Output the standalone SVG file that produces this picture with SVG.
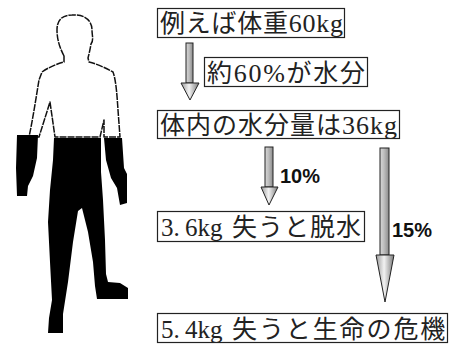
<svg xmlns="http://www.w3.org/2000/svg" width="456" height="344" viewBox="0 0 456 344">
  <defs>
    <linearGradient id="shaftFill" x1="0" y1="0" x2="1" y2="0">
      <stop offset="0" stop-color="#d8d8d8"/>
      <stop offset="0.45" stop-color="#bdbdbd"/>
      <stop offset="1" stop-color="#8a8a8a"/>
    </linearGradient>
    <linearGradient id="headFill" x1="0" y1="0" x2="1" y2="0">
      <stop offset="0" stop-color="#9a9a9a"/>
      <stop offset="0.45" stop-color="#f2f2f2"/>
      <stop offset="1" stop-color="#7a7a7a"/>
    </linearGradient>
    <style>
      .box { fill: #fff; stroke: #222; stroke-width: 1.2; }
      .jp { font-family: "Liberation Serif", "Noto Sans CJK JP", serif; font-size: 25px; fill: #222; }
      .lat { font-family: "Liberation Serif", serif; font-size: 26px; }
      .num { font-family: "Liberation Serif", serif; font-size: 25px; }
      .pct { font-family: "Liberation Sans", Arial, sans-serif; font-weight: bold; font-size: 20px; fill: #111; }
      .shaft { fill: url(#shaftFill); stroke: #222; stroke-width: 1; }
      .head { fill: url(#headFill); stroke: #222; stroke-width: 1; stroke-linejoin: miter; }
      .outline { fill: #fff; stroke: #111; stroke-width: 1.5; stroke-dasharray: 7 1; stroke-linejoin: round; }
      .solid { fill: #000; }
    </style>
  </defs>

  <rect width="456" height="344" fill="#fff"/>

  <!-- human figure: outlined upper body, black (water) lower part -->
  <g id="figure">
    <path class="outline" d="M64,56 C60,48 57,40 57,30 C57,20 62,15 72,15 C84,14 92,20 92,30 C92,36 94,40 91,44 C90,50 89,54 88,58 L89,62 C97,64 106,68 113,72 C116,80 117,95 118,110 L120,137 L104,137 L104,120 L100,137 L55,137 L50,102 L39,137 L29,137 C33,118 36,98 39,80 L42,72 C49,67 57,64 64,62 Z"/>
    <path class="solid" d="M17,135 L38,135 L37,158 L33,176 L28,186 L27,196 L17,196 L16,168 Z"/>
    <path class="solid" d="M104,138 L122,138 L124,168 L127,174 L127,203 L120,205 L117,188 L111,178 L106,160 Z"/>
    <path class="solid" d="M54,138 L101,138 L101,172 L103,200 L105,240 L106,274 L108,282 L120,283 L128,288 L128,299 L97,299 L95,286 L93,262 L88,232 L82,208 L78,211 L73,242 L68,282 L63,314 L63,333 L48,333 L49,318 L52,300 L50,262 L48,222 L50,190 L53,160 Z"/>
  </g>

  <!-- labelled boxes -->
  <g id="weight">
    <rect class="box" x="157.5" y="8.5" width="187" height="29"/>
    <text class="jp" x="160" y="32" textLength="183" lengthAdjust="spacing">例えば体重<tspan class="lat">60kg</tspan></text>
  </g>
  <g id="ratio">
    <rect class="box" x="204.5" y="57.5" width="163" height="29"/>
    <text class="jp" x="207" y="82" textLength="158" lengthAdjust="spacing">約<tspan class="lat">60%</tspan>が水分</text>
  </g>
  <g id="water">
    <rect class="box" x="157.5" y="110.5" width="242" height="28"/>
    <text class="jp" x="160" y="134" textLength="237" lengthAdjust="spacing">体内の水分量は<tspan class="lat">36kg</tspan></text>
  </g>
  <g id="dehydration">
    <rect class="box" x="157.5" y="211.5" width="207" height="30"/>
    <text class="jp" x="161" y="236"><tspan class="num">3.</tspan><tspan class="num" x="185">6kg</tspan><tspan x="232" letter-spacing="1">失うと脱水</tspan></text>
  </g>
  <g id="danger">
    <rect class="box" x="157.5" y="313.5" width="290" height="29"/>
    <text class="jp" x="161" y="338"><tspan class="num">5.</tspan><tspan class="num" x="185">4kg</tspan><tspan x="232" letter-spacing="1.9">失うと生命の危機</tspan></text>
  </g>

  <!-- block arrows -->
  <g id="connectors">
    <rect class="shaft" x="186" y="43" width="7" height="40"/>
    <path class="head" d="M181,83 L199,83 L190,100 Z"/>

    <rect class="shaft" x="265" y="147" width="8" height="40"/>
    <path class="head" d="M261,187 L278,187 L269,205 Z"/>
    <text class="pct" x="280" y="183">10%</text>

    <rect class="shaft" x="380" y="148" width="9" height="107"/>
    <path class="head" d="M376,255 L394,255 L385,302 Z"/>
    <text class="pct" x="392" y="237">15%</text>
  </g>
</svg>
